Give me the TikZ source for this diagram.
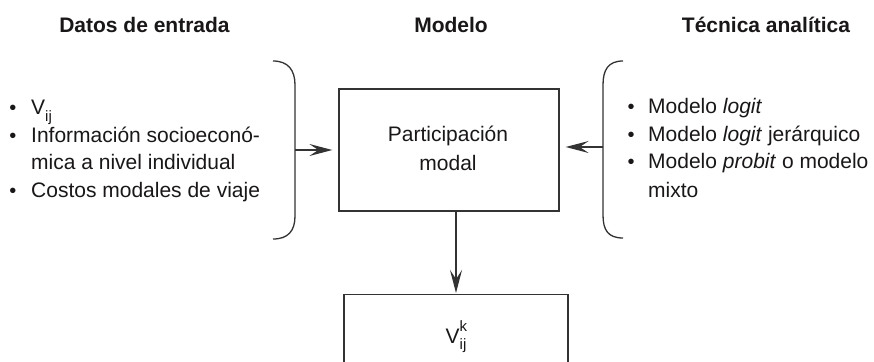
\documentclass[tikz,border=0pt]{standalone}
\usepackage{fontspec}
\setmainfont{Liberation Sans}
\usetikzlibrary{arrows.meta}
\definecolor{ink}{HTML}{1A1718}
\definecolor{rule}{HTML}{333333}
\newcommand{\subtxt}[1]{\raisebox{-0.32em}{\fontsize{15}{15}\selectfont #1}}
\newcommand{\suptxt}[1]{\raisebox{0.55em}{\fontsize{15}{15}\selectfont #1}}
\begin{document}
\begin{tikzpicture}[x=1pt,y=-1pt,
  every node/.style={text=ink,font=\fontsize{21}{21}\selectfont,inner sep=0pt},
  title/.style={font=\fontsize{21}{21}\selectfont\bfseries,anchor=base},
  item/.style={anchor=base west},
  dot/.style={anchor=base,font=\fontsize{20}{20}\selectfont},
  line/.style={draw=rule,line width=1.3pt},
  arr/.style={line,-{Stealth[length=23pt,width=12pt,inset=9pt]}},
  box/.style={line,rectangle,inner sep=0pt}]
\clip (0,0) rectangle (874,361);
\fill[white] (0,0) rectangle (874,361);

% column titles
\node[title] (t1) at (144.5,32.7) {Datos de entrada};
\node[title] (t2) at (451,32.7) {Modelo};
\node[title] (t3) at (766,32.7) {Técnica analítica};

% central model box
\node[box,minimum width=220pt,minimum height=122pt] (main) at (449,150) {};
\node[anchor=base] (m1) at (448,141) {Participación};
\node[anchor=base] (m2) at (448,170) {modal};

% output box, open at the lower edge of the page
\node[box,minimum width=224pt,minimum height=140pt,anchor=north] (out) at (456,294) {};
\node[anchor=base] (vk) at (456,343) {V\rlap{\suptxt{k}}\subtxt{ij}};

% input data list
\node[dot] (d1) at (13,114.5) {•};
\node[item] (l1) at (31,114.5) {V\subtxt{ij}};
\node[dot] (d2) at (13,142.2) {•};
\node[item] (l2) at (31,142.2) {Información socioeconó-};
\node[item] (l3) at (31,169.9) {mica a nivel individual};
\node[dot] (d4) at (13,197.6) {•};
\node[item] (l4) at (31,197.6) {Costos modales de viaje};

% analytic technique list
\node[dot] (e1) at (631,113) {•};
\node[item] (r1) at (648,113) {Modelo \textit{logit}};
\node[dot] (e2) at (631,141) {•};
\node[item] (r2) at (648,141) {Modelo \textit{logit} jerárquico};
\node[dot] (e3) at (631,168) {•};
\node[item] (r3) at (648,168) {Modelo \textit{probit} o modelo};
\node[item] (r4) at (648,197) {mixto};

% braces
\coordinate (lb) at (295,150);
\coordinate (rb) at (603,147);
\draw[line] (273,61) .. controls (288,61) and (295,70) .. (295,85)
  -- (295,216) .. controls (295,231) and (288,239) .. (273,239);
\draw[line] (623,61) .. controls (608,61) and (603,70) .. (603,85)
  -- (603,215) .. controls (603,230) and (608,238) .. (623,238);

% connectors
\draw[arr,shorten >=6pt] (lb) -- (lb -| main.west);
\draw[arr,shorten >=6pt] (rb) -- (rb -| main.east);
\draw[arr,shorten >=1pt] (main.south -| out.north) -- (out.north);
\end{tikzpicture}
\end{document}
